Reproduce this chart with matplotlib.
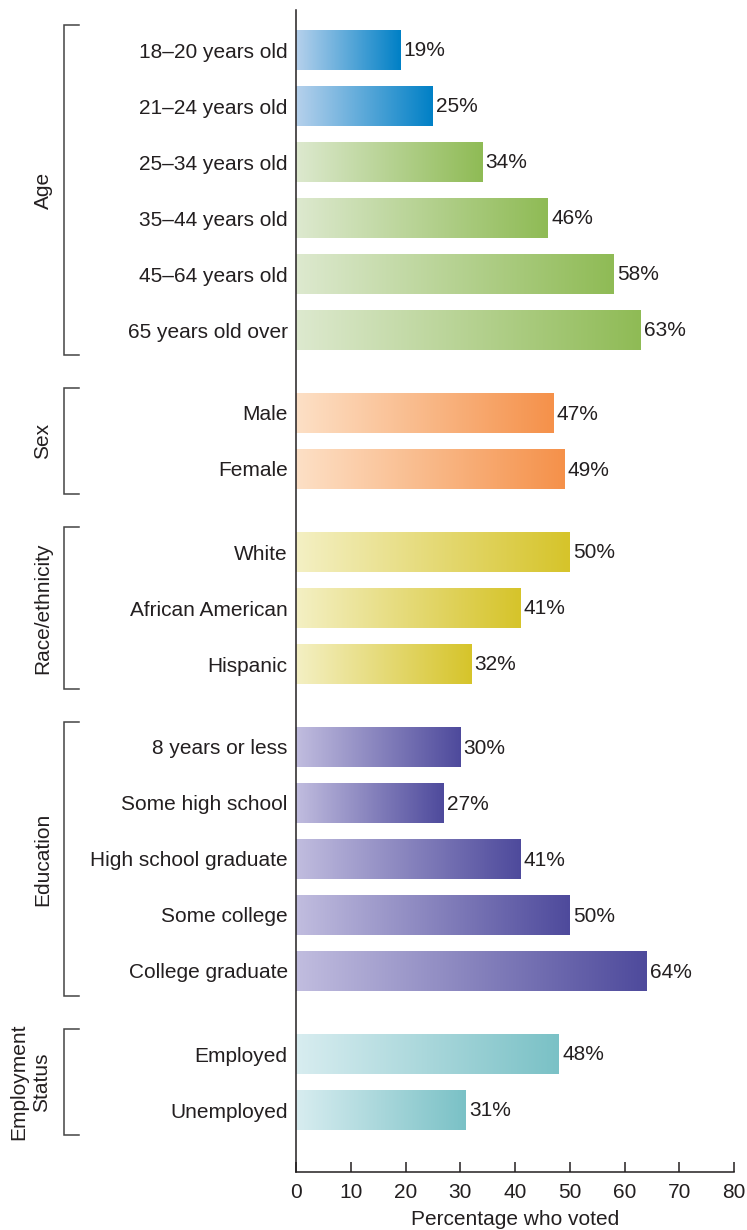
import numpy as np
import matplotlib
matplotlib.use("Agg")
import matplotlib.pyplot as plt
from matplotlib.colors import LinearSegmentedColormap
from matplotlib.transforms import blended_transform_factory

plt.rcParams['font.family'] = ['Liberation Sans', 'DejaVu Sans']

# ---- data ----
groups = ["Age", "Sex", "Race/ethnicity", "Education", "Employment\nStatus"]

age_labels = ["18–20 years old", "21–24 years old", "25–34 years old",
              "35–44 years old", "45–64 years old", "65 years old over"]
age_values = [19, 25, 34, 46, 58, 63]

sex_labels = ["Male", "Female"]
sex_values = [47, 49]

race_labels = ["White", "African American", "Hispanic"]
race_values = [50, 41, 32]

edu_labels = ["8 years or less", "Some high school", "High school graduate",
              "Some college", "College graduate"]
edu_values = [30, 27, 41, 50, 64]

emp_labels = ["Employed", "Unemployed"]
emp_values = [48, 31]

x_ticks = [0, 10, 20, 30, 40, 50, 60, 70, 80]
x_label = "Percentage who voted"

# ---- colour ramps (light -> saturated) ----
ramps = {
    "blue":   ("#b6d1ec", "#0080c6"),
    "green":  ("#dde9cf", "#8fbb55"),
    "orange": ("#fde0c6", "#f5914a"),
    "yellow": ("#f4f0c4", "#d6c42a"),
    "purple": ("#c1bddf", "#4e4a9c"),
    "teal":   ("#d8edf0", "#7ac1c6"),
}

age_colors = ["blue", "blue", "green", "green", "green", "green"]
sex_colors = ["orange"] * 2
race_colors = ["yellow"] * 3
edu_colors = ["purple"] * 5
emp_colors = ["teal"] * 2

all_labels = [age_labels, sex_labels, race_labels, edu_labels, emp_labels]
all_values = [age_values, sex_values, race_values, edu_values, emp_values]
all_colors = [age_colors, sex_colors, race_colors, edu_colors, emp_colors]

# ---- layout (vertical units run downward, in pixel-like steps) ----
W, H = 747, 1230
first_center = 50
step = 56
group_gap = 83
bar_h = 40
half_span = 25
y_top, y_bottom = 10, 1172

fig = plt.figure(figsize=(W / 100, H / 100), dpi=100)
ax = fig.add_axes([296 / W, 1 - y_bottom / H, (734 - 296) / W, (y_bottom - y_top) / H])
ax.set_xlim(0, 80)
ax.set_ylim(y_bottom, y_top)

text_color = "#231f20"
fs = 15

grad = np.linspace(0, 1, 256).reshape(1, -1)

positions = []
tick_labels = []
group_spans = []
y = first_center
for gi, (labs, vals, cols) in enumerate(zip(all_labels, all_values, all_colors)):
    start = y
    for lab, v, c in zip(labs, vals, cols):
        bars = ax.barh(y, v, height=bar_h, color="none", edgecolor="none")
        rect = bars[0]
        cmap = LinearSegmentedColormap.from_list(c, ramps[c])
        im = ax.imshow(grad, cmap=cmap, aspect="auto",
                       extent=[0, v, y + bar_h / 2, y - bar_h / 2],
                       interpolation="bicubic", zorder=2)
        im.set_clip_path(rect)
        ax.text(v + 0.6, y + 1, f"{v}%", ha="left", va="center",
                fontsize=fs, color=text_color)
        positions.append(y)
        tick_labels.append(lab)
        last = y
        y += step
    group_spans.append((start - half_span, last + half_span))
    y = last + group_gap

ax.set_yticks(positions)
ax.set_yticklabels(tick_labels, fontsize=fs, color=text_color)
ax.tick_params(axis="y", length=0, pad=6)

ax.set_xticks(x_ticks)
ax.set_xticklabels([str(t) for t in x_ticks], fontsize=fs, color=text_color)
ax.tick_params(axis="x", direction="in", length=7, width=1.1, color=text_color, pad=8)
ax.set_xlabel(x_label, fontsize=fs, color=text_color, labelpad=6)

for side in ["top", "right"]:
    ax.spines[side].set_visible(False)
for side in ["left", "bottom"]:
    ax.spines[side].set_color(text_color)
    ax.spines[side].set_linewidth(1.1)

# ---- group brackets and labels on the left ----
tr = blended_transform_factory(fig.transFigure, ax.transData)
bx, bx2 = 64 / W, 79 / W
for name, (y0, y1) in zip(groups, group_spans):
    ax.plot([bx2, bx, bx, bx2], [y0, y0, y1, y1], transform=tr,
            color="#444444", lw=1.1, clip_on=False, solid_joinstyle="miter")
    lx = 43 / W if "\n" not in name else 30 / W
    ax.text(lx, (y0 + y1) / 2, name, transform=tr, rotation=90,
            ha="center", va="center", fontsize=fs, color=text_color,
            multialignment="center", linespacing=1.25)

fig.savefig("out.png", dpi=100)
